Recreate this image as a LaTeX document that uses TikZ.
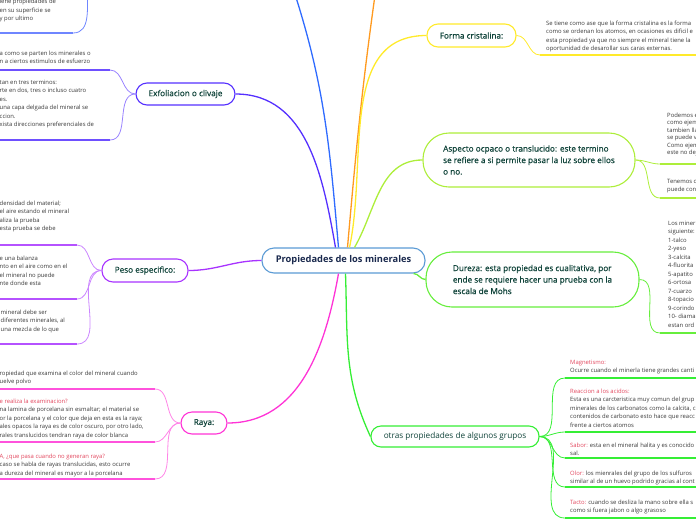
\documentclass[tikz,border=0pt]{standalone}
\usepackage{fontspec}
\setmainfont{Open Sans}
\newfontfamily\midfont{Open Sans}[FakeBold=0.6]
\usetikzlibrary{positioning}
\definecolor{CenterLine}{HTML}{5B9BD5}
\definecolor{CenterText}{HTML}{1B2A4E}
\definecolor{NodeText}{HTML}{10443A}
\definecolor{Body}{HTML}{3A3A3A}
\definecolor{Tag}{HTML}{E2475E}
\definecolor{Blue}{HTML}{2F6BFF}
\definecolor{BlueLight}{HTML}{6F86FF}
\definecolor{Orange}{HTML}{FF9A1F}
\definecolor{Yellow}{HTML}{FFEA2A}
\definecolor{Lime}{HTML}{ADEE3A}
\definecolor{Green}{HTML}{66EE3C}
\definecolor{Leaf}{HTML}{35EE35}
\definecolor{Magenta}{HTML}{FF33D6}
\definecolor{Purple}{HTML}{A833FF}
\definecolor{Violet}{HTML}{5530FF}
\newcommand\redlbl[1]{\textcolor{Tag}{#1}}
\tikzset{topic/.style={draw,line width=1.1pt,fill=white,rounded corners=11pt,align=center,inner sep=0pt,text=NodeText,font=\midfont\fontsize{8.2}{11.5}\selectfont},note/.style={anchor=north west,align=left,inner sep=0pt,text=Body,font=\fontsize{5.9}{8.5}\selectfont},link/.style={line width=1.3pt},twig/.style={line width=.8pt},ruleline/.style={line width=1.8pt}}

\begin{document}
\begin{tikzpicture}[x=1pt,y=-1pt]
        \useasboundingbox (0,0) rectangle (696,520);
        \clip (0,0) rectangle (696,520);
        \node[topic,draw=CenterLine,text=CenterText,minimum width=163,minimum height=25,rounded corners=12pt,font=\bfseries\fontsize{9.3}{11}\selectfont] (root) at (343.5,260.5) {Propiedades de los minerales};
        \node[topic,draw=Violet,minimum width=99,minimum height=22] (exf) at (185.5,94) {Exfoliacion o clivaje};
        \node[topic,draw=Purple,minimum width=86,minimum height=23] (peso) at (145,270.5) {Peso especifico:};
        \node[topic,draw=Magenta,minimum width=46,minimum height=22] (raya) at (204,423) {Raya:};
        \node[topic,draw=Yellow,minimum width=89,minimum height=23] (forma) at (471.5,35.5) {Forma cristalina:};
        \node[topic,draw=Lime,minimum width=212,minimum height=54,rounded corners=26pt,align=left] (aspecto) at (529,160) {Aspecto ocpaco o translucido: este termino\\se refiere a si permite pasar la luz sobre ellos\\o no.};
        \node[topic,draw=Green,minimum width=213,minimum height=55,rounded corners=26pt,align=left] (dureza) at (532.5,279.5) {Dureza: esta propiedad es cualitativa, por\\ende se requiere hacer una prueba con la\\escala de Mohs};
        \node[topic,draw=Leaf,minimum width=168,minimum height=21,rounded corners=10pt,font=\fontsize{8.2}{11}\selectfont] (otras) at (455,436.5) {otras propiedades de algunos grupos};
        \coordinate (topBlue) at (293,-12);
        \coordinate (topOrange) at (376,-12);
        \draw[link,Blue] ([xshift=-5]root.north) to[out=95,in=-72] (topBlue);
        \draw[link,Orange] ([xshift=4]root.north) to[out=85,in=-98] (topOrange);
        \draw[link,Yellow] ([xshift=6]root.north) to[out=78,in=180] (forma.west);
        \draw[link,Lime] ([xshift=11]root.north) to[out=60,in=180] (aspecto.west);
        \draw[link,Violet] (exf.east) to[out=0,in=100] ([xshift=-8]root.north);
        \draw[link,Purple] (peso.east) to[out=0,in=180] (root.west);
        \draw[link,Magenta] ([xshift=-5]root.south) to[out=-100,in=0] (raya.east);
        \draw[link,Leaf] ([xshift=2]root.south) to[out=-88,in=115] (otras.west);
        \draw[link,Green] ([xshift=-12]root.south east) to[out=0,in=180] (dureza.west);
        \coordinate (tlA) at (73,33);
        \coordinate (tlUp) at (88,-12);
        \node[note] (tlText) at (-0.5,-1) {iene propiedades de\\en su superficie se\\y por ultimo};
        \draw[twig,BlueLight] (tlA) to[out=0,in=-95] (tlUp);
        \draw[ruleline,BlueLight] (tlA) -- +(-90,0);
        \coordinate (exA) at (110,70);
        \coordinate (exB) at (110,140);
        \node[note] (exTextA) at (-0.5,50.5) {a como se parten los minerales o\\n a ciertos estimulos de esfuerzo};
        \node[note] (exTextB) at (-0.5,79.5) {tan en tres terminos:\\rte en dos, tres o incluso cuatro\\es.\\una capa delgada del mineral se\\ccion.\\xista direcciones preferenciales de};
        \foreach \p in {exA,exB}{\draw[twig,Violet!60] (exf.west) to[out=180,in=0] (\p); \draw[ruleline,Violet!85] (\p) -- +(-130,0);}
        \coordinate (peA) at (77,245);
        \coordinate (peB) at (77,299);
        \coordinate (peC) at (77,344);
        \node[note] (peTextA) at (-0.5,200.5) {densidad del material;\\el aire estando el mineral\\aliza la prueba\\esta prueba se debe};
        \node[note] (peTextB) at (-0.5,255.5) {e una balanza\\nto en el aire como en el\\el mineral no puede\\nte donde esta};
        \node[note] (peTextC) at (0.5,309.5) {mineral debe ser\\diferentes minerales, al\\una mezcla de lo que};
        \foreach \p in {peA,peB,peC}{\draw[twig,Purple!60] (peso.west) to[out=180,in=0] (\p); \draw[ruleline,Purple!85] (\p) -- +(-100,0);}
        \coordinate (raA) at (155,389);
        \coordinate (raB) at (155,442);
        \coordinate (raC) at (155,479);
        \node[note] (raTextA) at (-0.5,370.5) {ropiedad que examina el color del mineral cuando\\uelve polvo};
        \node[note] (raTextB) at (-0.5,398.5) {\redlbl{e realiza la examinacion?}\\na lamina de porcelana sin esmaltar; el material se\\or la porcelana y el color que deja en esta es la raya;\\ales opacos la raya es de color oscuro, por otro lado,\\rales translucidos tendran raya de color blanca};
        \node[note] (raTextC) at (-0.5,453.5) {\redlbl{A, ¿que pasa cuando no generan raya?}\\caso se habla de rayas translucidas, esto ocurre\\a dureza del mineral es mayor a la porcelana};
        \foreach \p in {raA,raB,raC}{\draw[twig,Magenta!60] (raya.west) to[out=180,in=0] (\p); \draw[ruleline,Magenta!85] (\p) -- +(-170,0);}
        \coordinate (foA) at (540,55);
        \node[note] (foText) at (546,20.5) {Se tiene como ase que la forma cristalina es la forma\\como se ordenan los atomos, en ocasiones es dificil e\\esta propiedad ya que no siempre el mineral tiene la\\oportunidad de desarollar sus caras externas.};
        \draw[twig,Yellow] (forma.east) to[out=0,in=180] (foA);
        \draw[ruleline,Yellow] (foA) -- +(170,0);
        \coordinate (asA) at (660,164);
        \coordinate (asB) at (660,198);
        \node[note,font=\fontsize{5.9}{7.5}\selectfont] (asTextA) at (667,112.5) {Podemos e\\como ejem\\tambien lla\\se puede v\\Como ejem\\este no dej};
        \node[note,font=\fontsize{5.9}{7.5}\selectfont] (asTextB) at (667,179.5) {Tenemos c\\puede cont};
        \foreach \p in {asA,asB}{\draw[twig,Lime] (aspecto.east) to[out=0,in=180] (\p); \draw[ruleline,Lime] (\p) -- +(60,0);}
        \coordinate (duA) at (660,333);
        \node[note] (duText) at (668,220.5) {Los miner\\siguiente:\\1-talco\\2-yeso\\3-calcita\\4-fluorita\\5-apatito\\6-ortosa\\7-cuarzo\\8-topacio\\9-corindo\\10- diama\\estan ord};
        \draw[twig,Green] (dureza.east) to[out=0,in=180] (duA);
        \draw[ruleline,Green] (duA) -- +(60,0);
        \coordinate (otA) at (565,378);
        \coordinate (otB) at (565,432);
        \coordinate (otC) at (565,458);
        \coordinate (otD) at (565,487);
        \coordinate (otE) at (565,518);
        \node[note] (otTextA) at (570,359.5) {\redlbl{Magnetismo:}\\Ocurre cuando el minerla tiene grandes canti};
        \node[note] (otTextB) at (570,388.5) {\redlbl{Reaccion a los acidos:}\\Esta es una carcteristica muy comun del grup\\minerales de los carbonatos como la calcita, c\\contenidos de carbonato esto hace que reacc\\frente a ciertos atomos};
        \node[note] (otTextC) at (570,442.5) {\redlbl{Sabor:} esta en el mineral halita y es conocido\\sal.};
        \node[note] (otTextD) at (570,470.5) {\redlbl{Olor:} los mienrales del grupo de los sulfuros\\similar al de un huevo podrido gracias al cont};
        \node[note] (otTextE) at (570,499.5) {\redlbl{Tacto:} cuando se desliza la mano sobre ella s\\como si fuera jabon o algo grasoso};
        \foreach \p in {otA,otB,otC,otD,otE}{\draw[twig,Leaf] (otras.east) to[out=0,in=180] (\p); \draw[ruleline,Leaf] (\p) -- +(140,0);}
      \end{tikzpicture}
\end{document}
